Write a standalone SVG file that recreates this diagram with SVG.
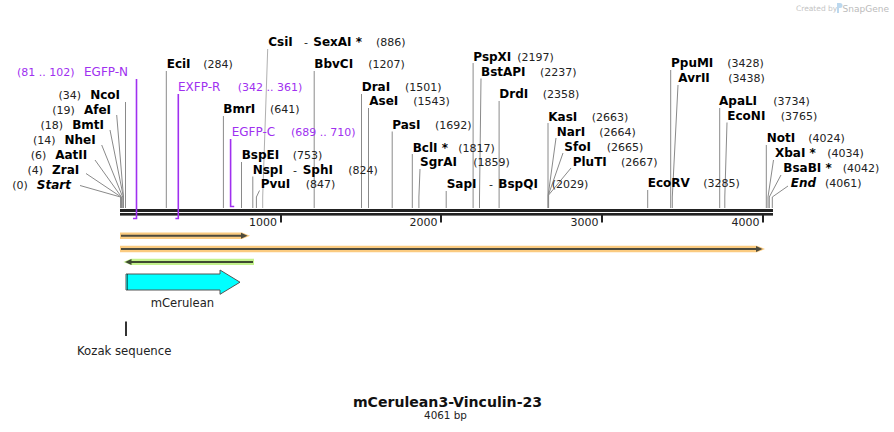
<svg xmlns="http://www.w3.org/2000/svg" width="894" height="432" viewBox="0 0 894 432">
<style>
text{font-family:"DejaVu Sans","Verdana",sans-serif;}
.b{font-weight:bold;font-size:12px;fill:#000;}
.bi{font-weight:bold;font-style:italic;font-size:12px;fill:#000;}
.n{font-size:11px;fill:#222;}
.p{font-size:12px;fill:#a030f0;}
.pn{font-size:11px;fill:#a030f0;}
.l{fill:none;stroke:#8a8a8a;stroke-width:1;}
.pl{fill:none;stroke:#a030f0;stroke-width:1.6;}
.t{font-size:11px;fill:#222;}
</style>
<rect width="894" height="432" fill="#fff"/>
<g id="watermark">
<text x="796" y="11" style="font-size:7.5px;fill:#c4c4c4;">Created by</text>
<path d="M837,3 h3 a2.5,2.5 0 0 1 0,5 h-1 v5 h-2 z" fill="#bcd8ee"/>
<text x="889" y="11.5" text-anchor="end" style="font-size:9px;fill:#bbbbbb;">SnapGene</text>
</g>
<g id="backbone">
<rect x="120" y="209" width="653" height="3" fill="#222"/>
<rect x="120" y="213" width="653" height="2.6" fill="#222"/>
<rect x="280" y="215" width="2" height="7.5" fill="#222"/>
<rect x="440" y="215" width="2" height="7.5" fill="#222"/>
<rect x="601" y="215" width="2" height="7.5" fill="#222"/>
<rect x="762" y="215" width="2" height="7.5" fill="#222"/>
<text class="t" x="277" y="226" text-anchor="end">1000</text>
<text class="t" x="437.5" y="226" text-anchor="end">2000</text>
<text class="t" x="598.5" y="226" text-anchor="end">3000</text>
<text class="t" x="759.5" y="226" text-anchor="end">4000</text>
</g>
<g id="connectors">
<path class="l" d="M80,185.5 L120.5,197 V208"/>
<path class="l" d="M86,173.5 L121.1,197 V208"/>
<path class="l" d="M95,160 L121.5,197 V208"/>
<path class="l" d="M101.7,145 L122.7,197 V208"/>
<path class="l" d="M110,130 L123.4,197 V208"/>
<path class="l" d="M116.7,115 L123.5,197 V208"/>
<path class="l" d="M125.5,102 V208"/>
<path class="l" d="M166.3,71 V208"/>
<path class="l" d="M223.4,116 V208"/>
<path class="l" d="M241.5,162 V208"/>
<path class="l" d="M252.8,176.5 V208"/>
<path class="l" d="M259.5,190.5 L256.4,197 V208"/>
<path class="l" d="M267.7,49 L262.7,197 V208" style="stroke:#b0b0b0"/>
<path class="l" d="M314.2,71 V208"/>
<path class="l" d="M361.5,94 V208"/>
<path class="l" d="M368.5,108 V208"/>
<path class="l" d="M392.2,131.5 V208"/>
<path class="l" d="M412.3,154 V208"/>
<path class="l" d="M420,169 L418.9,197 V208"/>
<path class="l" d="M446.2,191 V208"/>
<path class="l" d="M473.1,63 V208"/>
<path class="l" d="M481,78.5 L479.5,197 V208"/>
<path class="l" d="M499.1,101 V208"/>
<path class="l" d="M548,123 V208"/>
<path class="l" d="M556,138 L548.2,195 V208"/>
<path class="l" d="M563,153 L548.4,195 V208"/>
<path class="l" d="M571,168 L548.6,195 V208"/>
<path class="l" d="M647.7,190 V208"/>
<path class="l" d="M670.7,70 V208"/>
<path class="l" d="M678,85 L672.3,197 V208"/>
<path class="l" d="M719.7,108 V208"/>
<path class="l" d="M727,122.5 L724.8,197 V208"/>
<path class="l" d="M766.3,145 V208"/>
<path class="l" d="M773.5,160 L768,197 V208"/>
<path class="l" d="M781,175 L769.3,197 V208"/>
<path class="l" d="M788,186 L772.3,197 V208"/>
<path class="pl" d="M136.5,79 V218.5 H133"/>
<path class="pl" d="M178.3,94 V218.5 H175.4"/>
<path class="pl" d="M230.6,139 V206.5 H234.2"/>
</g>
<g id="enzymes-left">
<text x="71" y="188.5" text-anchor="end"><tspan class="n">(0)</tspan><tspan class="bi" dx="9">Start</tspan></text>
<text x="79.3" y="174" text-anchor="end"><tspan class="n">(4)</tspan><tspan class="b" dx="9">ZraI</tspan></text>
<text x="87.3" y="159" text-anchor="end"><tspan class="n">(6)</tspan><tspan class="b" dx="9">AatII</tspan></text>
<text x="95.7" y="144.3" text-anchor="end"><tspan class="n">(14)</tspan><tspan class="b" dx="9">NheI</tspan></text>
<text x="104" y="129" text-anchor="end"><tspan class="n">(18)</tspan><tspan class="b" dx="9">BmtI</tspan></text>
<text x="111" y="114" text-anchor="end"><tspan class="n">(19)</tspan><tspan class="b" dx="9">AfeI</tspan></text>
<text x="120" y="99" text-anchor="end"><tspan class="n">(34)</tspan><tspan class="b" dx="9">NcoI</tspan></text>
</g>
<g id="primers">
<text class="pn" x="17" y="76">(81 .. 102)</text>
<text class="p" x="84" y="76">EGFP-N</text>
<text class="p" x="178" y="91">EXFP-R</text>
<text class="pn" x="237.7" y="91">(342 .. 361)</text>
<text class="p" x="231.7" y="136">EGFP-C</text>
<text class="pn" x="291" y="136">(689 .. 710)</text>
</g>
<g id="enzymes-right">
<text class="b" x="268.3" y="46">CsiI</text><text class="n" x="304" y="46">-</text><text class="b" x="313.3" y="46">SexAI *</text><text class="n" x="376" y="46">(886)</text>
<text class="b" x="166.7" y="68.3">EciI</text><text class="n" x="203.3" y="68.3">(284)</text>
<text class="b" x="314.3" y="68.3">BbvCI</text><text class="n" x="368.3" y="68.3">(1207)</text>
<text class="b" x="361.7" y="91">DraI</text><text class="n" x="405" y="91">(1501)</text>
<text class="b" x="369.3" y="105">AseI</text><text class="n" x="413.3" y="105">(1543)</text>
<text class="b" x="223.3" y="113.3">BmrI</text><text class="n" x="270" y="113.3">(641)</text>
<text class="b" x="392.3" y="129">PasI</text><text class="n" x="435" y="129">(1692)</text>
<text class="b" x="412.7" y="151.7">BclI *</text><text class="n" x="458.3" y="151.7">(1817)</text>
<text class="b" x="241.7" y="159.3">BspEI</text><text class="n" x="292.7" y="159.3">(753)</text>
<text class="b" x="420" y="166">SgrAI</text><text class="n" x="473.3" y="166">(1859)</text>
<text class="b" x="252.7" y="174">NspI</text><text class="n" x="293" y="174">-</text><text class="b" x="302.7" y="174">SphI</text><text class="n" x="348.3" y="174">(824)</text>
<text class="b" x="260.7" y="188.3">PvuI</text><text class="n" x="305.7" y="188.3">(847)</text>
<text class="b" x="473.3" y="60.7">PspXI</text><text class="n" x="517.3" y="60.7">(2197)</text>
<text class="b" x="481" y="76">BstAPI</text><text class="n" x="540" y="76">(2237)</text>
<text class="b" x="499.3" y="98.3">DrdI</text><text class="n" x="542.7" y="98.3">(2358)</text>
<text class="b" x="548.3" y="120.7">KasI</text><text class="n" x="591.7" y="120.7">(2663)</text>
<text class="b" x="556.7" y="135.7">NarI</text><text class="n" x="599.3" y="135.7">(2664)</text>
<text class="b" x="564.3" y="150.7">SfoI</text><text class="n" x="606.7" y="150.7">(2665)</text>
<text class="b" x="572.7" y="165.7">PluTI</text><text class="n" x="621" y="165.7">(2667)</text>
<text class="b" x="446.7" y="188.3">SapI</text><text class="n" x="489" y="188.3">-</text><text class="b" x="498.3" y="188.3">BspQI</text><text class="n" x="551.7" y="188.3">(2029)</text>
<text class="b" x="671" y="67.3">PpuMI</text><text class="n" x="727.3" y="67.3">(3428)</text>
<text class="b" x="678.3" y="82.3">AvrII</text><text class="n" x="728.3" y="82.3">(3438)</text>
<text class="b" x="719" y="105">ApaLI</text><text class="n" x="773.3" y="105">(3734)</text>
<text class="b" x="727.3" y="120">EcoNI</text><text class="n" x="780.7" y="120">(3765)</text>
<text class="b" x="766.7" y="142.3">NotI</text><text class="n" x="808.3" y="142.3">(4024)</text>
<text class="b" x="775" y="157.3">XbaI *</text><text class="n" x="827.3" y="157.3">(4034)</text>
<text class="b" x="783.3" y="172.3">BsaBI *</text><text class="n" x="842.7" y="172.3">(4042)</text>
<text class="bi" x="790.7" y="187.3">End</text><text class="n" x="825" y="187.3">(4061)</text>
<text class="b" x="647.7" y="187.3">EcoRV</text><text class="n" x="703.3" y="187.3">(3285)</text>
</g>
<g id="feature-orange-1">
<path d="M120,232.5 H242 L250,235.8 L242,239 H120 Z" fill="#fbcb80"/>
<path d="M121,235.8 H242" stroke="#4d4a3c" stroke-width="2"/>
<path d="M241,232.8 L247.5,235.8 L241,238.8 Z" fill="#4d4a3c"/>
</g>
<g id="feature-orange-2">
<path d="M120,245.7 H757 L765,249 L757,252.3 H120 Z" fill="#fbcb80"/>
<path d="M121,249 H757" stroke="#4d4a3c" stroke-width="2"/>
<path d="M756,246 L762.5,249 L756,252 Z" fill="#4d4a3c"/>
</g>
<g id="feature-green">
<path d="M254,258.7 H131 L123.3,261.9 L131,265 H254 Z" fill="#c3f28c"/>
<path d="M253,261.9 H131" stroke="#3e4a30" stroke-width="2"/>
<path d="M131.5,258.9 L125,261.9 L131.5,264.9 Z" fill="#3e4a30"/>
</g>
<g id="mCerulean">
<path d="M126,274 H220 V270 L240,282.2 L220,294.3 V290 H126 Z" fill="#00ffff" stroke="#555" stroke-width="1"/>
<path d="M127.5,274.5 V289.5" stroke="#000" stroke-width="1" stroke-dasharray="1,1"/>
<text x="182.4" y="307" text-anchor="middle" style="font-size:11.6px;fill:#222;">mCerulean</text>
</g>
<g id="kozak">
<rect x="125" y="321.5" width="2" height="14.5" fill="#333"/>
<text x="124.2" y="355" text-anchor="middle" style="font-size:11.7px;fill:#222;">Kozak sequence</text>
</g>
<g id="title">
<text x="447.5" y="406.5" text-anchor="middle" style="font-size:14.1px;font-weight:bold;fill:#111;">mCerulean3-Vinculin-23</text>
<text x="445.5" y="419.3" text-anchor="middle" style="font-size:10.4px;fill:#222;">4061 bp</text>
</g>
</svg>
